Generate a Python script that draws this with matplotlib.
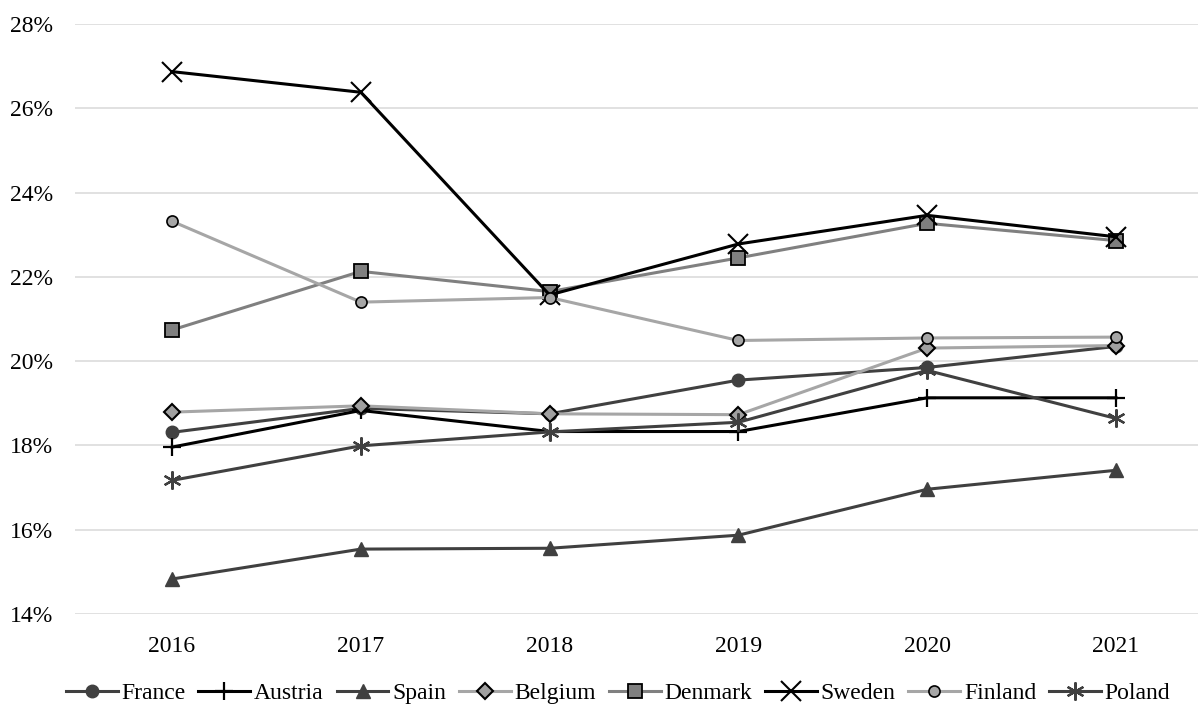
import numpy as np
import matplotlib
matplotlib.use("Agg")
import matplotlib.pyplot as plt
from matplotlib.ticker import FuncFormatter

# ============================
# DATA
# ============================

years = ["2016", "2017", "2018", "2019", "2020", "2021"]

france = [18.31, 18.88, 18.75, 19.55, 19.85, 20.35]
austria = [17.96, 18.83, 18.33, 18.33, 19.13, 19.13]
spain = [14.83, 15.54, 15.56, 15.87, 16.96, 17.41]
belgium = [18.79, 18.94, 18.75, 18.73, 20.31, 20.37]
denmark = [20.74, 22.13, 21.65, 22.45, 23.27, 22.86]
sweden = [26.87, 26.38, 21.57, 22.78, 23.46, 22.95]
finland = [23.32, 21.40, 21.51, 20.49, 20.55, 20.57]
poland = [17.17, 17.99, 18.32, 18.55, 19.78, 18.64]

# ============================
# PLOT
# ============================

plt.rcParams["font.family"] = ["Liberation Serif", "DejaVu Serif"]

fig = plt.figure(figsize=(11.98, 7.04), dpi=100)
ax = fig.add_axes([75 / 1198, 1 - 614 / 704, 1 - 75 / 1198, (614 - 24) / 704])

x = np.arange(len(years))
lw = 2.2

ax.plot(x, france, color="#404040", lw=lw, marker="o", ms=9,
        mfc="#404040", mec="#404040", label="France", zorder=3)
ax.plot(x, austria, color="#000000", lw=lw, marker="+", ms=13, mew=1.6,
        label="Austria", zorder=3)
ax.plot(x, spain, color="#404040", lw=lw, marker="^", ms=10,
        mfc="#404040", mec="#404040", label="Spain", zorder=3)
ax.plot(x, belgium, color="#a6a6a6", lw=lw, marker="D", ms=8,
        mfc="#a0a0a0", mec="#000000", mew=1.5, label="Belgium", zorder=3)
ax.plot(x, denmark, color="#808080", lw=lw, marker="s", ms=10,
        mfc="#7f7f7f", mec="#000000", mew=1.3, label="Denmark", zorder=3)
ax.plot(x, sweden, color="#000000", lw=lw, marker="x", ms=14, mew=1.5,
        label="Sweden", zorder=3)
ax.plot(x, finland, color="#a6a6a6", lw=lw, marker="o", ms=8,
        mfc="#a6a6a6", mec="#000000", mew=1.2, label="Finland", zorder=3)
ax.plot(x, poland, color="#404040", lw=lw, marker=(6, 2, 0), ms=13, mew=1.6,
        mec="#404040", label="Poland", zorder=3)

ax.set_xlim(-(172 - 75) / 188.8, 5 + (1198 - 1116) / 188.8)
ax.set_ylim(14, 28)
ax.set_yticks(np.arange(14, 29, 2))
ax.yaxis.set_major_formatter(FuncFormatter(lambda v, p: f"{v:.0f}%"))
ax.set_xticks(x)
ax.set_xticklabels(years)

ax.grid(axis="y", color="#d9d9d9", lw=1.1)
ax.set_axisbelow(True)
for s in ax.spines.values():
    s.set_visible(False)
ax.tick_params(length=0, labelsize=17, colors="#000000")
ax.tick_params(axis="y", pad=16)
ax.tick_params(axis="x", pad=16)

fig.legend(loc="center", bbox_to_anchor=(618 / 1198, 1 - 693 / 704), ncol=8,
           frameon=False, fontsize=17, handlelength=2.2, handletextpad=0.15,
           columnspacing=0.55, borderaxespad=0)

fig.savefig("out.png", dpi=100)
